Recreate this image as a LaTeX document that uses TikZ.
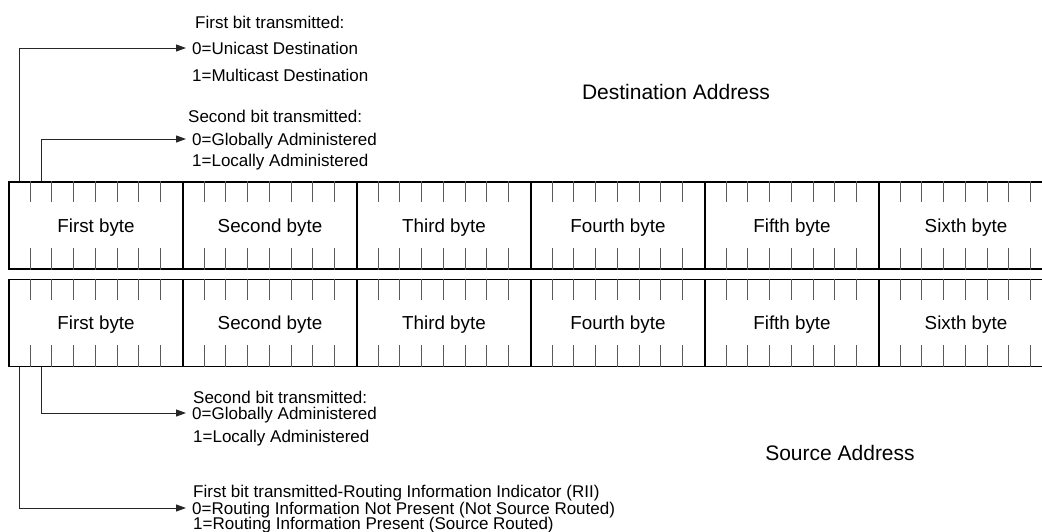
\documentclass[tikz,border=0pt]{standalone}
\usepackage{fontspec}
\setmainfont{Liberation Sans}
\usetikzlibrary{arrows.meta,calc}
\begin{document}
\begin{tikzpicture}[x=1pt,y=-1pt,
  bytebox/.style={draw=black,line width=1.2pt,minimum width=174pt,minimum height=87pt,inner sep=0pt,font=\fontsize{18.8}{22}\selectfont,text height=13.5pt,text depth=0pt},
  tickline/.style={draw=black!65,line width=0.9pt},
  lbl/.style={anchor=west,inner xsep=6pt,inner ysep=0pt,font=\fontsize{17}{20}\selectfont,text height=12.2pt,text depth=0pt},
  ttl/.style={font=\fontsize{21}{25}\selectfont,inner sep=0pt,text height=15pt,text depth=0pt},
  conn/.style={draw=black!85,line width=1pt},
  arr/.style={conn,-{Triangle[length=10pt,width=7pt]}}
]
\clip (0,0) rectangle (1042,531);
% byte fields
\foreach \i/\t in {1/First,2/Second,3/Third,4/Fourth,5/Fifth,6/Sixth}{
  \node[bytebox] (d\i) at ({9+174*(\i-0.5)},225.5) {\t\ byte};
  \node[bytebox] (s\i) at ({9+174*(\i-0.5)},323) {\t\ byte};
}
\foreach \i in {1,...,6}{
  \foreach \k in {1,...,7}{
    \draw[tickline] ($(d\i.north west)+(\k*21.75,0)$) -- ++(0,21);
    \draw[tickline] ($(d\i.south west)+(\k*21.75,0)$) -- ++(0,-22);
    \draw[tickline] ($(s\i.north west)+(\k*21.75,0)$) -- ++(0,21);
    \draw[tickline] ($(s\i.south west)+(\k*21.75,0)$) -- ++(0,-22);
  }
}
% titles
\node[ttl] (dest) at (676,92) {Destination Address};
\node[ttl] (src) at (840,453) {Source Address};
% destination labels
\node[lbl] (dt1) at (189,22) {First bit transmitted:};
\node[lbl] (dt2) at (186,48) {0=Unicast Destination};
\node[lbl] (dt3) at (186,75) {1=Multicast Destination};
\node[lbl] (ds1) at (182,116) {Second bit transmitted:};
\node[lbl] (ds2) at (186,139) {0=Globally Administered};
\node[lbl] (ds3) at (186,160) {1=Locally Administered};
% source labels
\node[lbl] (ss1) at (187,397) {Second bit transmitted:};
\node[lbl] (ss2) at (186,413) {0=Globally Administered};
\node[lbl] (ss3) at (187,436) {1=Locally Administered};
\node[lbl] (st1) at (187,491) {First bit transmitted-Routing Information Indicator (RII)};
\node[lbl] (st2) at (186,508) {0=Routing Information Not Present (Not Source Routed)};
\node[lbl] (st3) at (187,523.5) {1=Routing Information Present (Source Routed)};
% bit coordinates
\coordinate (db1) at ($(d1.north west)+(10.9,0)$);
\coordinate (db2) at ($(d1.north west)+(32.6,0)$);
\coordinate (sb1) at ($(s1.south west)+(10.9,0)$);
\coordinate (sb2) at ($(s1.south west)+(32.6,0)$);
% connectors
\draw[arr] (db1) |- (dt2.west);
\draw[arr] (db2) |- (ds2.west);
\draw[arr] (sb2) |- (ss2.west);
\draw[arr] (sb1) |- (st2.west);
\end{tikzpicture}
\end{document}
